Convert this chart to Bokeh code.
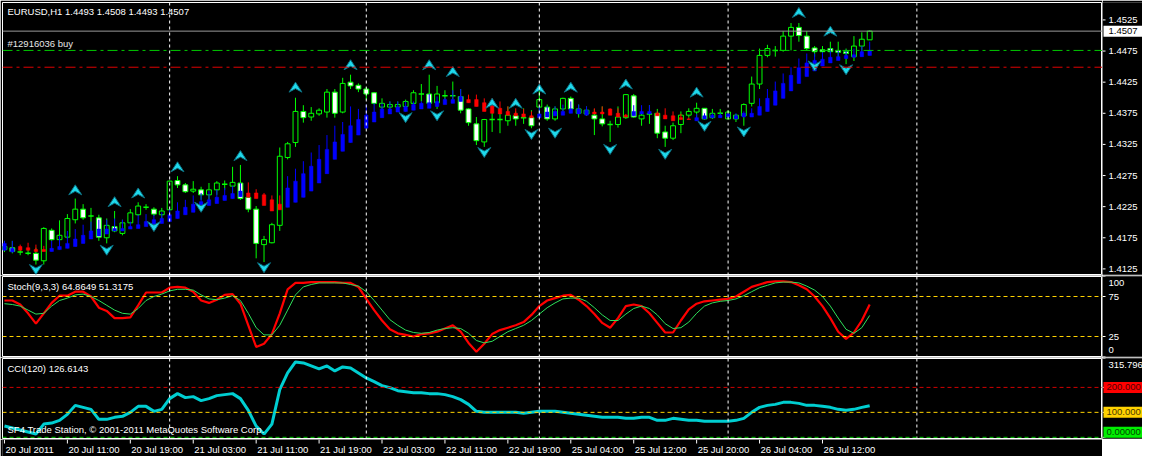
import numpy as np
from bokeh.plotting import figure
from bokeh.layouts import column, row
from bokeh.models import Range1d, Span, Label, ColumnDataSource
from bokeh.embed import file_html
from bokeh.resources import INLINE

# ---------------- texts ----------------
symbol_title = "EURUSD,H1  1.4493 1.4508 1.4493 1.4507"
order_text = "#12916036 buy"
stoch_title = "Stoch(9,3,3) 64.8649 51.3175"
cci_title = "CCI(120) 126.6143"
copyright_text = "SF4 Trade Station, \u00a9 2001-2011 MetaQuotes Software Corp."

time_label_bars = [0, 8, 16, 24, 32, 40, 48, 56, 64, 72, 80, 88, 96, 104]
time_labels = ["20 Jul 2011", "20 Jul 11:00", "20 Jul 19:00", "21 Jul 03:00",
               "21 Jul 11:00", "21 Jul 19:00", "22 Jul 03:00", "22 Jul 11:00",
               "22 Jul 19:00", "25 Jul 04:00", "25 Jul 12:00", "25 Jul 20:00",
               "26 Jul 04:00", "26 Jul 12:00"]
grid_bars = [21, 46, 68, 92, 116]

price_ticks = [1.4125, 1.4175, 1.4225, 1.4275, 1.4325, 1.4375, 1.4425, 1.4475, 1.4525]
bid_price = 1.4507
order_price = 1.4476
stop_price = 1.4449
stoch_levels = [25, 75]
stoch_ticks = [100, 75, 25, 0]
stoch_tick_labels = ["100", "75", "25", "0"]
cci_levels = [200, 100, 0]
cci_min, cci_max = -4.7816, 315.796
cci_box_values = [200, 100, 0]
cci_box_labels = ["200.000", "100.000", "0.00000"]

# ---------------- price data (H1 candles) ----------------
open_ = [1.4156, 1.4159, 1.4152, 1.4150, 1.4150, 1.4138, 1.4187, 1.4172, 1.4176, 1.4204,
         1.4221, 1.4210, 1.4207, 1.4175, 1.4193, 1.4182, 1.4199, 1.4212, 1.4224, 1.4221,
         1.4212, 1.4220, 1.4267, 1.4260, 1.4250, 1.4252, 1.4244, 1.4252, 1.4261, 1.4258,
         1.4263, 1.4240, 1.4221, 1.4164, 1.4167, 1.4195, 1.4304, 1.4328, 1.4378, 1.4369,
         1.4374, 1.4377, 1.4409, 1.4377, 1.4425, 1.4420, 1.4414, 1.4408, 1.4385, 1.4385,
         1.4385, 1.4386, 1.4391, 1.4406, 1.4406, 1.4392, 1.4403, 1.4403, 1.4402, 1.4382,
         1.4358, 1.4329, 1.4365, 1.4365, 1.4363, 1.4371, 1.4368, 1.4368, 1.4385, 1.4385,
         1.4366, 1.4382, 1.4399, 1.4375, 1.4374, 1.4372, 1.4366, 1.4357, 1.4357, 1.4368,
         1.4403, 1.4366, 1.4374, 1.4375, 1.4345, 1.4335, 1.4357, 1.4372, 1.4377, 1.4383,
         1.4368, 1.4375, 1.4366, 1.4366, 1.4371, 1.4391, 1.4422, 1.4468, 1.4476, 1.4476,
         1.4499, 1.4513, 1.4499, 1.4480, 1.4477, 1.4479, 1.4476, 1.4474, 1.4466, 1.4483, 1.4493]
high = [1.4170, 1.4170, 1.4158, 1.4158, 1.4159, 1.4192, 1.4190, 1.4203, 1.4213, 1.4238,
        1.4229, 1.4223, 1.4212, 1.4206, 1.4218, 1.4204, 1.4221, 1.4232, 1.4229, 1.4224,
        1.4223, 1.4267, 1.4274, 1.4263, 1.4266, 1.4257, 1.4263, 1.4266, 1.4267, 1.4289,
        1.4292, 1.4247, 1.4226, 1.4178, 1.4199, 1.4320, 1.4329, 1.4400, 1.4388, 1.4385,
        1.4383, 1.4414, 1.4414, 1.4432, 1.4437, 1.4423, 1.4417, 1.4409, 1.4399, 1.4394,
        1.4394, 1.4397, 1.4412, 1.4422, 1.4437, 1.4419, 1.4412, 1.4426, 1.4414, 1.4383,
        1.4369, 1.4366, 1.4386, 1.4382, 1.4386, 1.4378, 1.4383, 1.4380, 1.4412, 1.4389,
        1.4386, 1.4400, 1.4402, 1.4389, 1.4386, 1.4382, 1.4386, 1.4363, 1.4386, 1.4406,
        1.4406, 1.4375, 1.4388, 1.4382, 1.4355, 1.4360, 1.4378, 1.4383, 1.4392, 1.4383,
        1.4382, 1.4382, 1.4380, 1.4374, 1.4391, 1.4434, 1.4479, 1.4485, 1.4483, 1.4507,
        1.4520, 1.4520, 1.4507, 1.4483, 1.4483, 1.4490, 1.4490, 1.4479, 1.4499, 1.4505, 1.4508]
low = [1.4152, 1.4150, 1.4147, 1.4147, 1.4132, 1.4132, 1.4170, 1.4167, 1.4173, 1.4198,
       1.4204, 1.4186, 1.4170, 1.4166, 1.4184, 1.4179, 1.4198, 1.4210, 1.4220, 1.4210,
       1.4204, 1.4216, 1.4255, 1.4247, 1.4247, 1.4236, 1.4236, 1.4244, 1.4252, 1.4247,
       1.4236, 1.4216, 1.4142, 1.4136, 1.4166, 1.4186, 1.4301, 1.4321, 1.4360, 1.4363,
       1.4371, 1.4368, 1.4368, 1.4375, 1.4414, 1.4409, 1.4397, 1.4389, 1.4382, 1.4382,
       1.4380, 1.4378, 1.4386, 1.4394, 1.4389, 1.4382, 1.4394, 1.4397, 1.4375, 1.4355,
       1.4324, 1.4321, 1.4345, 1.4343, 1.4355, 1.4355, 1.4358, 1.4351, 1.4368, 1.4363,
       1.4363, 1.4378, 1.4378, 1.4368, 1.4371, 1.4340, 1.4354, 1.4329, 1.4352, 1.4366,
       1.4368, 1.4355, 1.4358, 1.4335, 1.4321, 1.4332, 1.4343, 1.4368, 1.4363, 1.4365,
       1.4366, 1.4368, 1.4366, 1.4361, 1.4355, 1.4386, 1.4414, 1.4465, 1.4466, 1.4474,
       1.4476, 1.4490, 1.4476, 1.4466, 1.4466, 1.4471, 1.4465, 1.4454, 1.4459, 1.4474, 1.4493]
close = [1.4161, 1.4153, 1.4152, 1.4150, 1.4139, 1.4190, 1.4172, 1.4179, 1.4206, 1.4221,
         1.4207, 1.4210, 1.4176, 1.4195, 1.4186, 1.4199, 1.4215, 1.4226, 1.4224, 1.4213,
         1.4218, 1.4266, 1.4260, 1.4249, 1.4253, 1.4244, 1.4252, 1.4263, 1.4261, 1.4264,
         1.4238, 1.4221, 1.4166, 1.4172, 1.4196, 1.4306, 1.4326, 1.4378, 1.4368, 1.4375,
         1.4380, 1.4409, 1.4375, 1.4423, 1.4419, 1.4414, 1.4406, 1.4391, 1.4391, 1.4389,
         1.4389, 1.4394, 1.4408, 1.4406, 1.4391, 1.4406, 1.4403, 1.4403, 1.4380, 1.4360,
         1.4331, 1.4365, 1.4365, 1.4365, 1.4372, 1.4366, 1.4368, 1.4355, 1.4397, 1.4366,
         1.4382, 1.4399, 1.4382, 1.4382, 1.4380, 1.4366, 1.4358, 1.4357, 1.4369, 1.4405,
         1.4369, 1.4372, 1.4374, 1.4343, 1.4335, 1.4355, 1.4372, 1.4378, 1.4383, 1.4366,
         1.4375, 1.4375, 1.4377, 1.4372, 1.4389, 1.4422, 1.4468, 1.4479, 1.4476, 1.4499,
         1.4513, 1.4500, 1.4479, 1.4474, 1.4474, 1.4474, 1.4473, 1.4471, 1.4483, 1.4494, 1.4507]

# ---------------- Heiken-Ashi style overlay ----------------
ha_open = [1.4155, 1.4152, 1.4161, 1.4159, 1.4156, 1.4156, 1.4153, 1.4156, 1.4158, 1.4161,
           1.4166, 1.4173, 1.4178, 1.4181, 1.4186, 1.4186, 1.4189, 1.4190, 1.4193, 1.4196,
           1.4198, 1.4201, 1.4206, 1.4212, 1.4216, 1.4221, 1.4227, 1.4230, 1.4235, 1.4238,
           1.4241, 1.4247, 1.4247, 1.4244, 1.4236, 1.4229, 1.4224, 1.4232, 1.4240, 1.4250,
           1.4263, 1.4278, 1.4301, 1.4314, 1.4328, 1.4340, 1.4351, 1.4361, 1.4368, 1.4374,
           1.4377, 1.4378, 1.4380, 1.4382, 1.4383, 1.4386, 1.4389, 1.4391, 1.4394, 1.4397,
           1.4397, 1.4392, 1.4388, 1.4383, 1.4378, 1.4375, 1.4374, 1.4371, 1.4368, 1.4369,
           1.4371, 1.4372, 1.4375, 1.4374, 1.4372, 1.4377, 1.4377, 1.4382, 1.4375, 1.4372,
           1.4371, 1.4374, 1.4374, 1.4375, 1.4372, 1.4371, 1.4368, 1.4366, 1.4363, 1.4366,
           1.4368, 1.4368, 1.4369, 1.4366, 1.4369, 1.4369, 1.4372, 1.4378, 1.4388, 1.4399,
           1.4411, 1.4423, 1.4434, 1.4443, 1.4451, 1.4456, 1.4460, 1.4463, 1.4465, 1.4466, 1.4468]
ha_close = [1.4166, 1.4158, 1.4155, 1.4155, 1.4153, 1.4153, 1.4158, 1.4161, 1.4166, 1.4173,
            1.4179, 1.4186, 1.4189, 1.4189, 1.4190, 1.4190, 1.4193, 1.4196, 1.4201, 1.4204,
            1.4206, 1.4212, 1.4218, 1.4224, 1.4229, 1.4233, 1.4236, 1.4240, 1.4243, 1.4246,
            1.4250, 1.4240, 1.4238, 1.4227, 1.4218, 1.4220, 1.4255, 1.4266, 1.4278, 1.4290,
            1.4301, 1.4317, 1.4329, 1.4341, 1.4355, 1.4365, 1.4372, 1.4377, 1.4382, 1.4382,
            1.4385, 1.4386, 1.4389, 1.4391, 1.4392, 1.4394, 1.4397, 1.4397, 1.4402, 1.4392,
            1.4386, 1.4378, 1.4375, 1.4374, 1.4372, 1.4371, 1.4369, 1.4368, 1.4374, 1.4377,
            1.4378, 1.4378, 1.4382, 1.4382, 1.4380, 1.4374, 1.4374, 1.4372, 1.4369, 1.4369,
            1.4378, 1.4378, 1.4378, 1.4371, 1.4366, 1.4363, 1.4365, 1.4365, 1.4368, 1.4371,
            1.4372, 1.4372, 1.4374, 1.4371, 1.4375, 1.4375, 1.4386, 1.4399, 1.4411, 1.4423,
            1.4436, 1.4448, 1.4456, 1.4460, 1.4462, 1.4465, 1.4466, 1.4468, 1.4469, 1.4474, 1.4476]
ha_high = [1.4170, 1.4170, 1.4164, 1.4167, 1.4164, 1.4162, 1.4170, 1.4178, 1.4186, 1.4189,
           1.4196, 1.4201, 1.4204, 1.4204, 1.4206, 1.4204, 1.4201, 1.4212, 1.4213, 1.4212,
           1.4216, 1.4221, 1.4232, 1.4236, 1.4243, 1.4247, 1.4250, 1.4252, 1.4255, 1.4258,
           1.4263, 1.4264, 1.4253, 1.4247, 1.4243, 1.4243, 1.4274, 1.4286, 1.4298, 1.4312,
           1.4324, 1.4340, 1.4355, 1.4361, 1.4386, 1.4382, 1.4389, 1.4391, 1.4391, 1.4394,
           1.4394, 1.4394, 1.4394, 1.4394, 1.4406, 1.4402, 1.4400, 1.4412, 1.4414, 1.4405,
           1.4405, 1.4399, 1.4399, 1.4394, 1.4386, 1.4383, 1.4382, 1.4378, 1.4386, 1.4386,
           1.4386, 1.4389, 1.4394, 1.4389, 1.4386, 1.4383, 1.4386, 1.4383, 1.4383, 1.4374,
           1.4388, 1.4388, 1.4388, 1.4378, 1.4383, 1.4378, 1.4374, 1.4368, 1.4374, 1.4375,
           1.4375, 1.4375, 1.4375, 1.4375, 1.4378, 1.4383, 1.4399, 1.4414, 1.4426, 1.4439,
           1.4449, 1.4463, 1.4471, 1.4471, 1.4473, 1.4479, 1.4476, 1.4477, 1.4479, 1.4483, 1.4490]
ha_low = [1.4155, 1.4152, 1.4155, 1.4155, 1.4153, 1.4153, 1.4153, 1.4156, 1.4158, 1.4161,
          1.4166, 1.4173, 1.4178, 1.4181, 1.4186, 1.4186, 1.4189, 1.4190, 1.4193, 1.4196,
          1.4198, 1.4201, 1.4206, 1.4212, 1.4216, 1.4221, 1.4227, 1.4230, 1.4235, 1.4238,
          1.4241, 1.4240, 1.4238, 1.4227, 1.4218, 1.4220, 1.4224, 1.4232, 1.4240, 1.4250,
          1.4263, 1.4278, 1.4301, 1.4314, 1.4328, 1.4340, 1.4351, 1.4361, 1.4368, 1.4374,
          1.4377, 1.4378, 1.4380, 1.4382, 1.4383, 1.4386, 1.4389, 1.4391, 1.4394, 1.4392,
          1.4386, 1.4378, 1.4375, 1.4374, 1.4372, 1.4371, 1.4369, 1.4368, 1.4368, 1.4369,
          1.4371, 1.4372, 1.4375, 1.4374, 1.4372, 1.4374, 1.4374, 1.4372, 1.4369, 1.4369,
          1.4371, 1.4374, 1.4374, 1.4371, 1.4366, 1.4363, 1.4365, 1.4365, 1.4363, 1.4366,
          1.4368, 1.4368, 1.4369, 1.4366, 1.4369, 1.4369, 1.4372, 1.4378, 1.4388, 1.4399,
          1.4411, 1.4423, 1.4434, 1.4443, 1.4451, 1.4456, 1.4460, 1.4463, 1.4465, 1.4466, 1.4468]

# ---------------- fractal arrows ----------------
fractal_up_bars = [9, 14, 17, 22, 30, 37, 44, 54, 57, 62, 65, 68, 72, 79, 88, 101, 105]
fractal_up_price = [1.4252, 1.4233, 1.4247, 1.4289, 1.4307, 1.4417, 1.4453, 1.4453, 1.4442,
                    1.4391, 1.4391, 1.4414, 1.4417, 1.4422, 1.4409, 1.4537, 1.4507]
fractal_dn_bars = [4, 13, 19, 25, 33, 51, 55, 61, 67, 70, 77, 84, 89, 94, 103, 107]
fractal_dn_price = [1.4124, 1.4155, 1.4193, 1.4224, 1.4127, 1.4368, 1.4371, 1.4312, 1.4341,
                    1.4343, 1.4317, 1.4309, 1.4354, 1.4345, 1.4451, 1.4445]

# ---------------- Stochastic (9,3,3) ----------------
stoch_main = [70, 70, 65, 54, 41, 54, 67, 76, 76, 81, 81, 75, 61, 57, 48, 48, 49, 64, 80, 80,
              80, 86, 87, 86, 81, 70, 67, 71, 77, 78, 66, 39, 12, 16, 28, 54, 84, 92, 92, 93,
              93, 93, 93, 92, 92, 87, 72, 58, 45, 34, 29, 27, 25, 28, 29, 31, 35, 39, 31, 17,
              6, 16, 28, 33, 36, 39, 43, 52, 63, 70, 73, 76, 77, 71, 63, 53, 42, 36, 48, 63,
              65, 63, 54, 42, 30, 30, 45, 59, 66, 69, 70, 71, 72, 75, 81, 87, 90, 93, 94, 94,
              93, 89, 84, 75, 63, 48, 31, 22, 30, 45, 64.8649]
stoch_signal = [66, 65, 63, 58, 53, 54, 63, 70, 73, 77, 78, 75, 70, 64, 58, 54, 53, 60, 70, 75,
                78, 82, 84, 84, 83, 77, 72, 71, 73, 76, 70, 54, 36, 27, 27, 39, 58, 77, 87, 90,
                92, 92, 92, 92, 90, 88, 81, 70, 58, 46, 39, 33, 30, 29, 30, 33, 35, 36, 35, 29,
                20, 17, 19, 25, 31, 35, 39, 45, 53, 61, 67, 72, 73, 73, 69, 61, 52, 45, 45, 53,
                60, 63, 60, 52, 41, 35, 36, 43, 54, 63, 67, 69, 70, 72, 76, 81, 86, 89, 92, 93,
                93, 92, 88, 83, 75, 63, 48, 34, 29, 36, 51.3175]

# ---------------- CCI(120) ----------------
cci = [45, 37, 29, 21, 13, 53, 57, 68, 92, 128, 120, 112, 72, 72, 80, 84, 100, 124, 124, 104,
       112, 155, 175, 159, 163, 147, 155, 167, 171, 175, 155, 108, 45, 13, 53, 191, 258, 302, 298, 286,
       274, 286, 266, 282, 278, 258, 238, 223, 207, 199, 187, 183, 179, 179, 175, 175, 171, 163, 151, 132,
       104, 100, 100, 100, 100, 100, 96, 100, 104, 104, 104, 100, 96, 92, 88, 84, 80, 80, 80, 76,
       76, 80, 80, 68, 68, 76, 72, 68, 68, 64, 64, 64, 64, 68, 76, 100, 120, 128, 132, 140,
       140, 136, 128, 128, 124, 120, 112, 108, 112, 120, 126.6143]

# ---------------- layout constants ----------------
FW = 1100          # chart frame width
AW = 40            # price-scale strip width
FH_MAIN, FH_ST, FH_CCI, FH_TIME = 272, 80, 80, 17
X0, X1 = -0.25, 139.6
YLO, YHI = 1.4116, 1.4553
FONT = "Liberation Sans"
FS = "9.5px"

xr = Range1d(X0, X1)


def base(fw, fh, x_range, y_range, top, bottom, left, outline):
    p = figure(frame_width=fw, frame_height=fh, x_range=x_range, y_range=y_range,
               output_backend="svg", toolbar_location=None,
               background_fill_color="black", border_fill_color="black",
               outline_line_color="white" if outline else None, outline_line_width=1,
               min_border_left=left, min_border_right=0, min_border_top=top,
               min_border_bottom=bottom, x_axis_location=None, y_axis_location=None)
    p.grid.visible = False
    return p


def chart_fig(fh, yr, top, bottom):
    p = base(FW, fh, xr, yr, top, bottom, 2, True)
    for b in grid_bars:
        p.add_layout(Span(location=b, dimension="height", line_color="white",
                          line_width=1, line_dash="3 3"))
    return p


def scale_fig(fh, yr, top, bottom):
    return base(AW, fh, Range1d(0, AW), yr, top, bottom, 0, False)


def txt(p, x, y, text, xo=0, yo=0, color="white", align="left", baseline="middle"):
    p.add_layout(Label(x=x, y=y, x_offset=xo, y_offset=yo, text=text, text_color=color,
                       text_font=FONT, text_font_size=FS, text_align=align,
                       text_baseline=baseline))


def ticks(a, values):
    a.segment(x0=[0] * len(values), y0=values, x1=[3] * len(values), y1=values,
              line_color="white", line_width=1)


# ================= main price panel =================
y_main = Range1d(YLO, YHI)
p1 = chart_fig(FH_MAIN, y_main, 2, 1)
a1 = scale_fig(FH_MAIN, y_main, 2, 1)
by = (YHI - YLO) / FH_MAIN
bx = (X1 - X0) / FW

p1.add_layout(Span(location=bid_price, dimension="width", line_color="#9a9a9a", line_width=1))
p1.add_layout(Span(location=order_price, dimension="width", line_color="#00c800",
                   line_width=1, line_dash="10 4 3 4"))
p1.add_layout(Span(location=stop_price, dimension="width", line_color="#e00000",
                   line_width=1, line_dash="10 4 3 4"))

bars = np.arange(len(open_))
o = np.array(open_); c = np.array(close); h = np.array(high); l = np.array(low)
doji = np.isclose(o, c, atol=1e-7)
nd = ~doji
fills = ["black" if cc > oo else "white" for oo, cc in zip(o, c)]

p1.segment(x0=bars, y0=l, x1=bars, y1=h, line_color="#00ff00", line_width=1)
body = ColumnDataSource(dict(x=bars[nd], top=np.maximum(o, c)[nd], bottom=np.minimum(o, c)[nd],
                             fill=[f for f, k in zip(fills, nd) if k]))
p1.vbar(x="x", width=0.62, top="top", bottom="bottom", fill_color="fill",
        line_color="#00ff00", line_width=1, source=body)
p1.segment(x0=bars[doji] - 0.34, y0=o[doji], x1=bars[doji] + 0.34, y1=o[doji],
           line_color="#00ff00", line_width=1.5)

ho = np.array(ha_open); hc = np.array(ha_close)
hcol = ["#0000ff" if b >= a else "#ff0000" for a, b in zip(ho, hc)]
p1.segment(x0=bars, y0=ha_low, x1=bars, y1=ha_high, line_color=hcol, line_width=1)
p1.vbar(x=bars, width=0.45, top=np.maximum(ho, hc), bottom=np.minimum(ho, hc),
        fill_color=hcol, line_color=hcol, line_width=0.5)

up_shape = [(0, 5), (6.5, -5), (0, -1.5), (-6.5, -5)]
dn_shape = [(0, -5), (6.5, 5), (0, 1.5), (-6.5, 5)]


def arrow_patches(bs, ps, shape):
    xs = [[b + dx * bx for dx, dy in shape] for b in bs]
    ys = [[q + dy * by for dx, dy in shape] for q in ps]
    return xs, ys


for bs, ps, shp in [(fractal_up_bars, fractal_up_price, up_shape),
                    (fractal_dn_bars, fractal_dn_price, dn_shape)]:
    xs, ys = arrow_patches(bs, ps, shp)
    p1.patches(xs, ys, fill_color="#1fd9ec", line_color="#0b6f80", line_width=1)

txt(p1, X0, YHI, symbol_title, xo=5, yo=-9)
txt(p1, X0, order_price, order_text, xo=5, yo=7, color="#e6e6e6")

# price scale
ticks(a1, price_ticks)
for t in price_ticks:
    txt(a1, 6, t, f"{t:.4f}")
a1.quad(left=[1], right=[AW], bottom=[bid_price - 5.5 * by], top=[bid_price + 5.5 * by],
        fill_color="white", line_color=None)
txt(a1, 6, bid_price, f"{bid_price:.4f}", color="black")

# ================= stochastic panel =================
y_st = Range1d(0, 100)
p2 = chart_fig(FH_ST, y_st, 1, 1)
a2 = scale_fig(FH_ST, y_st, 1, 1)
for lv in stoch_levels:
    p2.add_layout(Span(location=lv, dimension="width", line_color="#ffd200",
                       line_width=1, line_dash="4 3"))
p2.line(bars, stoch_main, line_color="#ff0000", line_width=2.2)
p2.line(bars, stoch_signal, line_color="#2ee05a", line_width=1)
txt(p2, X0, 100, stoch_title, xo=5, yo=-10)
ticks(a2, stoch_ticks)
for v, s in zip(stoch_ticks, stoch_tick_labels):
    off = -6 if v == 100 else (7 if v == 0 else 0)
    txt(a2, 6, v, s, yo=off)

# ================= CCI panel =================
y_cci = Range1d(cci_min, cci_max)
p3 = chart_fig(FH_CCI, y_cci, 1, 1)
a3 = scale_fig(FH_CCI, y_cci, 1, 1)
for lv, col in zip(cci_levels, ["#d00000", "#ffd200", "#00d000"]):
    p3.add_layout(Span(location=lv, dimension="width", line_color=col,
                       line_width=1, line_dash="4 3"))
p3.line(bars, cci, line_color="#00ced1", line_width=3)
txt(p3, X0, cci_max, cci_title, xo=5, yo=-10)
txt(p3, X0, cci_min, copyright_text, xo=5, yo=9)

cy = (cci_max - cci_min) / FH_CCI
ticks(a3, [cci_max] + cci_box_values)
txt(a3, 6, cci_max, f"{cci_max:.3f}", yo=-6)
for v, s, bg, fg in zip(cci_box_values, cci_box_labels,
                        ["#ff0000", "#ffd200", "#00ee00"],
                        ["#500000", "#4a3a00", "#004400"]):
    shift = 5 if v == 0 else 0          # keep the lowest box inside the strip
    mid = v + shift * cy
    a3.quad(left=[1], right=[AW], bottom=[mid - 5.5 * cy], top=[mid + 5.5 * cy],
            fill_color=bg, line_color=None)
    txt(a3, 4, mid, s, color=fg)

# ================= time scale =================
pt = base(FW, FH_TIME, xr, Range1d(0, FH_TIME), 0, 0, 2, False)
pt.segment(x0=time_label_bars, y0=[FH_TIME] * len(time_label_bars),
           x1=time_label_bars, y1=[FH_TIME - 4] * len(time_label_bars),
           line_color="white", line_width=1)
for b, t in zip(time_label_bars, time_labels):
    txt(pt, b, FH_TIME, t, xo=1, yo=-4, baseline="top")

layout = column(row(p1, a1), row(p2, a2), row(p3, a3), pt)
html = file_html(layout, INLINE, title="EURUSD,H1")
html = html.replace("<body>", '<body style="background-color:#000000;">', 1)
open("out.html", "w").write(html)
